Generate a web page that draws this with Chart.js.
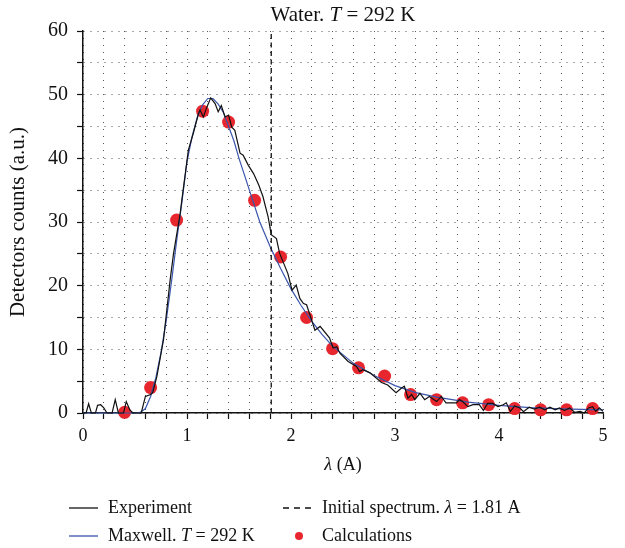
<!DOCTYPE html>
<html>
<head>
<meta charset="utf-8">
<script src="https://cdn.jsdelivr.net/npm/chart.js@4"></script>
<style>
  body { margin: 0; background: #fff; }
  canvas { display: block; }
</style>
</head>
<body>
<canvas id="chart" width="625" height="548"></canvas>
<script>
// Experiment (black, noisy)
const expX = [0, 0.03, 0.054, 0.08, 0.12, 0.14, 0.17, 0.2, 0.23, 0.28, 0.31, 0.34, 0.39, 0.416, 0.45, 0.48, 0.56, 0.6, 0.65, 0.67, 0.71,
  0.774, 0.838, 0.87, 0.934, 0.95, 1.013, 1.06, 1.11, 1.126, 1.157, 1.19, 1.228, 1.27, 1.30, 1.33, 1.366, 1.40, 1.43, 1.46,
  1.51, 1.54, 1.59, 1.64, 1.69, 1.73, 1.78, 1.81, 1.86, 1.89, 1.93, 1.97, 2.01, 2.05, 2.085, 2.12, 2.15, 2.2, 2.23, 2.28,
  2.37, 2.405, 2.44, 2.47, 2.55, 2.63, 2.66, 2.69, 2.76, 2.805, 2.87, 2.93, 3.01, 3.06, 3.09, 3.125, 3.16, 3.19, 3.24, 3.285,
  3.33, 3.40, 3.445, 3.49, 3.59, 3.62, 3.65, 3.70, 3.75, 3.81, 3.85, 3.89, 3.94, 3.99, 4.04, 4.07, 4.11, 4.15, 4.2, 4.235,
  4.29, 4.34, 4.39, 4.44, 4.49, 4.54, 4.58, 4.63, 4.68, 4.73, 4.78, 4.82, 4.86, 4.90, 4.93, 4.965, 5.0];
const expY = [0, 0, 1.45, 0, 0, 1.2, 1.3, 0.8, 0, 0, 2.1, 0, 0, 1.8, 0.5, 0, 0, 2.6, 2.9, 3.2, 5.7,
  11.5, 20.9, 25, 31.3, 33.4, 41.3, 43.9, 47, 47.6, 46.5, 48, 49.5, 48.6, 47.3, 48.3, 46.5, 46.8, 44.9, 44.4,
  40.8, 40.5, 38.9, 37.6, 35.8, 34, 30.8, 28, 27.4, 25.1, 23.5, 21.9, 19.3, 20.1, 18, 17.2, 17, 14.5, 13, 13.6,
  11.8, 10.2, 10.4, 9.4, 8.1, 7.3, 6.5, 6.8, 6.3, 5.7, 4.8, 4.4, 3.2, 3.9, 4.2, 2.35, 2.9, 2.1, 3.1, 2.1,
  2.6, 1.8, 2.6, 1.6, 1.6, 2.1, 1.8, 1.0, 1.3, 1.3, 0.4, 1.5, 1.5, 1.0, 1.3, 1.6, 0.25, 1.1, 0.8, 0.2,
  0.9, 0.6, 0.9, 0.5, 0.9, 0.5, 0.8, 0.4, 0.8, 0.1, 0.25, 0, 0.8, 1.0, 0.25, 0.8, 0.25];

// Maxwell T = 292 K (blue, smooth)
const maxX = [0, 0.5, 0.55, 0.6, 0.65, 0.7, 0.75, 0.8, 0.85, 0.9, 0.95, 1.0, 1.05, 1.1, 1.15, 1.2, 1.25, 1.3, 1.35, 1.4,
  1.45, 1.5, 1.6, 1.7, 1.8, 1.9, 2.0, 2.1, 2.2, 2.3, 2.4, 2.6, 2.8, 3.0, 3.2, 3.4, 3.7, 4.0, 4.3, 4.6, 5.0];
const maxY = [0, 0, 0.1, 0.7, 2.6, 5.5, 9.5, 14.5, 20.5, 27, 33, 39.5, 43.5, 46.5, 48.4, 49.4, 49.4, 48.5, 47.2, 45,
  42.8, 40, 35, 30, 26.1, 22.7, 19.5, 16.8, 14.4, 12.3, 10.5, 7.8, 5.9, 4.3, 3.2, 2.5, 1.7, 1.2, 0.85, 0.65, 0.5];

// Calculations (red dots)
const calcX = [0.40, 0.65, 0.90, 1.15, 1.40, 1.65, 1.90, 2.15, 2.40, 2.65, 2.90, 3.15, 3.40, 3.65, 3.90, 4.15, 4.40, 4.65, 4.90];
const calcY = [0.1, 4.0, 30.3, 47.4, 45.7, 33.4, 24.5, 15, 10.1, 7.1, 5.8, 2.9, 2.1, 1.6, 1.3, 0.7, 0.5, 0.5, 0.7];

// Initial spectrum lambda = 1.81 A (dashed vertical)
const initLambda = 1.81;
const yRange = [0, 60];

const FONT = '"Liberation Serif", "Times New Roman", serif';
const pts = (xs, ys) => xs.map((x, i) => ({ x: x, y: ys[i] }));

function richText(ctx, segs, x, y, size, align) {
  let total = 0;
  segs.forEach(s => {
    ctx.font = (s.i ? 'italic ' : '') + size + 'px ' + FONT;
    s.w = ctx.measureText(s.t).width;
    total += s.w;
  });
  let cx = align === 'center' ? x - total / 2 : x;
  ctx.textBaseline = 'middle';
  ctx.textAlign = 'left';
  segs.forEach(s => {
    ctx.font = (s.i ? 'italic ' : '') + size + 'px ' + FONT;
    ctx.fillText(s.t, cx, y);
    cx += s.w;
  });
}

const decorations = {
  id: 'decorations',
  afterDraw(chart) {
    const ctx = chart.ctx;
    const area = chart.chartArea;
    const mid = (area.left + area.right) / 2;
    ctx.save();
    ctx.fillStyle = '#111';
    richText(ctx, [{ t: 'Water. ' }, { t: 'T', i: true }, { t: ' = 292 K' }], mid, 15, 21, 'center');
    richText(ctx, [{ t: 'λ', i: true }, { t: ' (A)' }], mid, 465, 18, 'center');

    ctx.save();
    ctx.translate(18, (area.top + area.bottom) / 2);
    ctx.rotate(-Math.PI / 2);
    richText(ctx, [{ t: 'Detectors counts (a.u.)' }], 0, 0, 21, 'center');
    ctx.restore();

    // legend
    const r1 = 508, r2 = 536;
    ctx.lineWidth = 1.3;
    ctx.strokeStyle = '#111';
    ctx.beginPath(); ctx.moveTo(69, r1); ctx.lineTo(98, r1); ctx.stroke();
    ctx.strokeStyle = '#3a56ad';
    ctx.beginPath(); ctx.moveTo(69, r2); ctx.lineTo(98, r2); ctx.stroke();
    ctx.strokeStyle = '#111';
    ctx.setLineDash([6, 5]);
    ctx.beginPath(); ctx.moveTo(283, r1); ctx.lineTo(313, r1); ctx.stroke();
    ctx.setLineDash([]);
    ctx.fillStyle = '#e8262d';
    ctx.beginPath(); ctx.arc(299, r2, 4, 0, Math.PI * 2); ctx.fill();

    ctx.fillStyle = '#111';
    richText(ctx, [{ t: 'Experiment' }], 108, r1, 18, 'left');
    richText(ctx, [{ t: 'Maxwell. ' }, { t: 'T', i: true }, { t: ' = 292 K' }], 108, r2, 18, 'left');
    richText(ctx, [{ t: 'Initial spectrum. ' }, { t: 'λ', i: true }, { t: ' = 1.81 A' }], 322, r1, 18, 'left');
    richText(ctx, [{ t: 'Calculations' }], 322, r2, 18, 'left');
    ctx.restore();
  }
};

const isWhole = v => Math.abs(v - Math.round(v)) < 1e-6;

new Chart(document.getElementById('chart'), {
  type: 'scatter',
  data: {
    datasets: [
      {
        label: 'Initial spectrum',
        data: pts([initLambda, initLambda], yRange),
        showLine: true,
        borderColor: '#111',
        borderWidth: 1.3,
        borderDash: [5, 3.5],
        pointRadius: 0,
        order: 0
      },
      {
        label: 'Experiment',
        data: pts(expX, expY),
        showLine: true,
        borderColor: '#111',
        borderWidth: 1.2,
        pointRadius: 0,
        order: 1
      },
      {
        label: 'Maxwell',
        data: pts(maxX, maxY),
        showLine: true,
        borderColor: '#3a56ad',
        borderWidth: 1.2,
        pointRadius: 0,
        order: 2
      },
      {
        label: 'Calculations',
        data: pts(calcX, calcY),
        showLine: false,
        backgroundColor: '#e8262d',
        borderWidth: 0,
        pointRadius: 6.5,
        order: 3
      }
    ]
  },
  options: {
    responsive: false,
    animation: false,
    devicePixelRatio: 1,
    clip: false,
    layout: { padding: { left: 0, right: 22, top: 31, bottom: 95 } },
    plugins: { legend: { display: false }, tooltip: { enabled: false }, title: { display: false } },
    scales: {
      x: {
        type: 'linear',
        min: 0,
        max: 5,
        afterFit(scale) { scale.height = 40; },
        ticks: {
          stepSize: 0.2,
          maxTicksLimit: 100,
          autoSkip: false,
          maxRotation: 0,
          padding: 6,
          color: '#111',
          font: { family: FONT, size: 18 },
          callback: v => isWhole(v) ? String(Math.round(v)) : ''
        },
        grid: { color: '#555', lineWidth: 1, tickLength: 6, tickColor: '#111', tickWidth: 1.2 },
        border: { display: true, color: '#111', width: 1.5, dash: [1, 6] }
      },
      y: {
        type: 'linear',
        min: 0,
        max: 60,
        afterFit(scale) { scale.width = 83; },
        ticks: {
          stepSize: 5,
          maxTicksLimit: 100,
          autoSkip: false,
          padding: 9,
          color: '#111',
          font: { family: FONT, size: 20 },
          callback: v => (Math.round(v) % 10 === 0) ? String(Math.round(v)) : ''
        },
        grid: { color: '#555', lineWidth: 1, tickLength: 6, tickColor: '#111', tickWidth: 1.2 },
        border: { display: true, color: '#111', width: 1.5, dash: [1, 6] }
      }
    }
  },
  plugins: [decorations]
});
</script>
</body>
</html>
